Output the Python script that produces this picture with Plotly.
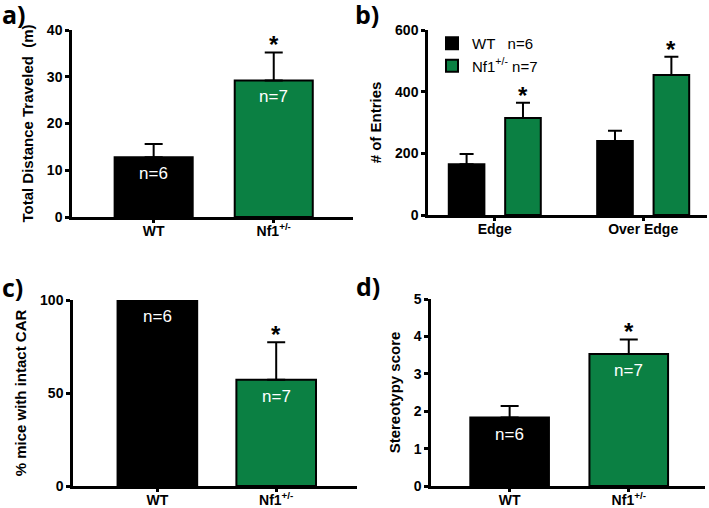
import plotly.graph_objects as go

W, H = 709, 508

groups = ["WT", "Nf1<sup>+/-</sup>"]
n_labels = ["n=6", "n=7"]
colors = ["#000000", "#0b8043"]

# a) total distance (m)
dist_mean = [12.8, 29.2]
dist_sem = [2.8, 6.0]

# b) number of entries
zones = ["Edge", "Over Edge"]
entries_wt = [165, 240]
entries_wt_sem = [33, 33]
entries_nf1 = [315, 454]
entries_nf1_sem = [49, 59]

# c) % mice with intact CAR
car_pct = [100, 57.1]
car_sem = [0, 20.2]

# d) stereotypy score
stereo_mean = [1.83, 3.53]
stereo_sem = [0.31, 0.39]


def px(x0, x1):
    return [x0 / W, x1 / W]


def py(top, bottom):
    return [1 - bottom / H, 1 - top / H]


TICKFONT = dict(family="Liberation Sans", size=14, color="black", weight="bold")
TITLEFONT = dict(family="Liberation Sans", size=15, color="black", weight="bold")

fig = go.Figure()

err_style = dict(type="data", symmetric=False, thickness=2, color="black")


def simple_panel(n, values, errs, width):
    xa = "x" if n == 1 else f"x{n}"
    ya = "y" if n == 1 else f"y{n}"
    fig.add_trace(go.Bar(
        x=list(range(len(groups))), y=values, width=width,
        marker=dict(color=colors, line=dict(color="black", width=2)),
        error_y=dict(array=errs, arrayminus=[0] * len(errs), width=9, **err_style),
        xaxis=xa, yaxis=ya, showlegend=False, hoverinfo="skip",
    ))


simple_panel(1, dist_mean, dist_sem, 0.65)
simple_panel(3, car_pct, [e if e > 0 else None for e in car_sem], 0.67)
simple_panel(4, stereo_mean, stereo_sem, 0.66)

# panel b grouped bars
b_width = 0.24
b_off = [-0.31, 0.07]
fig.add_trace(go.Bar(
    x=[0, 1], y=entries_wt, width=b_width, offset=b_off[0], name="WT   n=6",
    marker=dict(color=colors[0], line=dict(color="black", width=2)),
    error_y=dict(array=entries_wt_sem, arrayminus=[0, 0], width=7, **err_style),
    xaxis="x2", yaxis="y2", hoverinfo="skip",
))
fig.add_trace(go.Bar(
    x=[0, 1], y=entries_nf1, width=b_width, offset=b_off[1], name="Nf1<sup>+/-</sup> n=7",
    marker=dict(color=colors[1], line=dict(color="black", width=2)),
    error_y=dict(array=entries_nf1_sem, arrayminus=[0, 0], width=7, **err_style),
    xaxis="x2", yaxis="y2", hoverinfo="skip",
))

annotations = []


def star(xref, yref, x, y):
    annotations.append(dict(
        x=x, y=y, xref=xref, yref=yref, text="*", showarrow=False,
        yanchor="bottom", yshift=-8,
        font=dict(family="Liberation Sans", size=24, color="black", weight="bold"),
    ))


def nlabel(xref, yref, x, y, text):
    annotations.append(dict(
        x=x, y=y, xref=xref, yref=yref, text=text, showarrow=False,
        yanchor="top", yshift=-5,
        font=dict(family="Liberation Sans", size=17, color="white"),
    ))


for i in range(2):
    nlabel("x", "y", i, dist_mean[i], n_labels[i])
    nlabel("x3", "y3", i, car_pct[i], n_labels[i])
    nlabel("x4", "y4", i, stereo_mean[i], n_labels[i])

star("x", "y", 1, dist_mean[1] + dist_sem[1])
star("x3", "y3", 1, car_pct[1] + car_sem[1])
star("x4", "y4", 1, stereo_mean[1] + stereo_sem[1])
for i in range(2):
    star("x2", "y2", i + b_off[1] + b_width / 2, entries_nf1[i] + entries_nf1_sem[i])

for label, (lx, ly) in zip(["a)", "b)", "c)", "d)"], [(0, 14), (353, 14), (0, 287), (354, 286)]):
    annotations.append(dict(
        x=lx / W, y=1 - ly / H, xref="paper", yref="paper", text=label,
        showarrow=False, xanchor="left", yanchor="middle",
        font=dict(family="Open Sans", size=25, color="black", weight="bold"),
    ))

fig.update_layout(annotations=annotations)

axis_common = dict(
    showline=True, linecolor="black", linewidth=2.5, ticks="outside", ticklen=4,
    tickwidth=2.5, tickcolor="black", showgrid=False, zeroline=False,
    tickfont=TICKFONT, automargin=False,
)


def xaxis(dom, rng, ticktext, anchor):
    return dict(axis_common, domain=dom, range=rng, anchor=anchor, ticklen=3,
                ticklabelstandoff=-4,
                tickmode="array", tickvals=list(range(len(ticktext))), ticktext=ticktext)


def yaxis(dom, rng, dtick, title, anchor, standoff):
    return dict(axis_common, domain=dom, range=rng, anchor=anchor, dtick=dtick,
                title=dict(text=title, font=TITLEFONT, standoff=standoff))


fig.update_layout(
    width=W, height=H, margin=dict(l=0, r=0, t=0, b=0),
    plot_bgcolor="white", paper_bgcolor="white",
    xaxis=xaxis(px(72, 353), [-0.68, 1.66], groups, "y"),
    yaxis=yaxis(py(30, 217), [0, 40], 10, "Total Distance Traveled  (m)", "x", 10),
    xaxis2=xaxis(px(428, 707), [-0.45, 1.43], zones, "y2"),
    yaxis2=yaxis(py(30, 215), [0, 600], 200, "# of Entries", "x2", 10),
    xaxis3=xaxis(px(73, 357), [-0.71, 1.68], groups, "y3"),
    yaxis3=yaxis(py(300, 486), [0, 100], 50, "% mice with intact CAR", "x3", 10),
    xaxis4=xaxis(px(431, 705), [-0.66, 1.64], groups, "y4"),
    yaxis4=yaxis(py(299, 486), [0, 5], 1, "Stereotypy score", "x4", 10),
    legend=dict(
        x=432 / W, y=1 - 27 / H, xanchor="left", yanchor="top",
        font=dict(family="Liberation Sans", size=15, color="black"),
        bgcolor="rgba(0,0,0,0)", itemwidth=30, tracegroupgap=0,
    ),
    showlegend=True,
)

# drop the page's default body margin so the figure sits at the window corner
fig.write_html("out.html", config={"displayModeBar": False},
               post_script="document.body.style.margin='0';")
